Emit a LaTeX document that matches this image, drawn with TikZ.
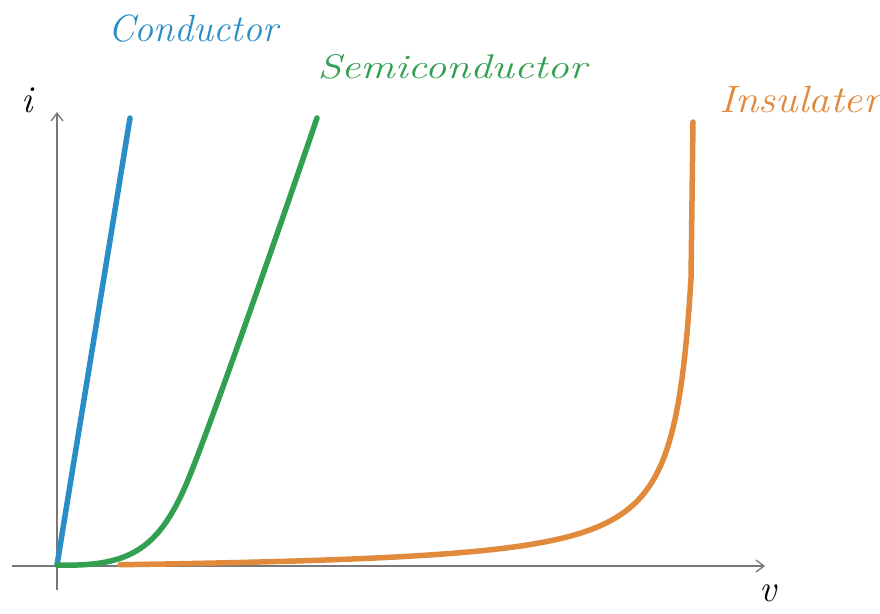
\documentclass[tikz,border=0pt]{standalone}
\usepackage{fontspec}
\usepackage{graphicx}
\usetikzlibrary{arrows.meta}
\definecolor{cblue}{RGB}{41,142,199}
\definecolor{cgreen}{RGB}{50,160,80}
\definecolor{corange}{RGB}{226,138,60}
\definecolor{caxis}{RGB}{120,120,120}
\begin{document}
\begin{tikzpicture}[x=1pt,y=-1pt,
  axis/.style={draw=caxis,line width=1.3pt},
  curve/.style={line width=5.5pt,line cap=round,line join=round},
  lab/.style={inner sep=0pt,font=\fontsize{38}{42}\selectfont\itshape},
  axlab/.style={inner sep=0pt,font=\fontsize{38}{42}\selectfont\itshape}]
\useasboundingbox (0,0) rectangle (880,613);
\fill[white] (0,0) rectangle (880,613);
% axes
\coordinate (O) at (57,565);
\coordinate (xs) at (12,566);
\coordinate (xe) at (765,566);
\coordinate (ys) at (57,590);
\coordinate (ye) at (57,112);
\draw[axis,-{Straight Barb[length=8pt,width=12pt]}] (xs) -- (xe);
\draw[axis,-{Straight Barb[length=8pt,width=12pt]}] (ys) -- (ye);
% curves
\coordinate (cTop) at (130,118);
\coordinate (sTop) at (317,118);
\coordinate (iTop) at (693,122);
\draw[curve,cblue] (O) -- (cTop);
\draw[curve,corange] plot[domain=120:691,samples=400,smooth] (\x,{566-(5170/(708.5-\x)-7.5)}) -- (iTop);
\draw[curve,cgreen] (O) .. controls (130,567) and (160,550) .. (190,475)
   .. controls (218,405) and (285,212) .. (sTop);
% labels
\node[lab,text=cblue] (lcond) at (193,29) {\scalebox{1.0}[1]{Conductor}};
\node[lab,text=cgreen] (lsemi) at (452,67) {\scalebox{1.13}[0.9]{Semiconductor}};
\node[lab,text=corange] (lins) at (800,100) {\scalebox{1.12}[1]{Insulater}};
\node[axlab] (li) at (27,100) {i};
\node[axlab] (lv) at (768,593) {v};
\end{tikzpicture}
\end{document}
